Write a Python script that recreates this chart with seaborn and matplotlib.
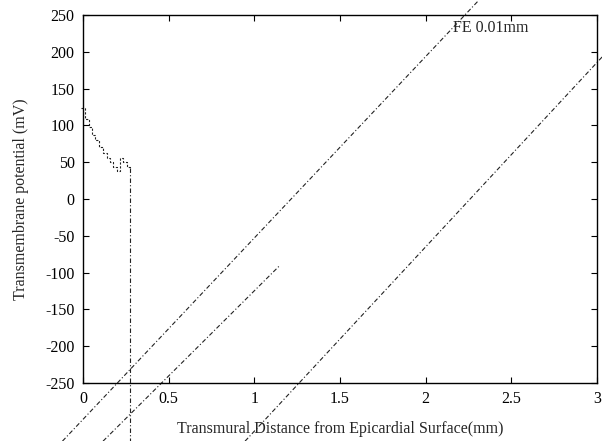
import matplotlib
matplotlib.use("Agg")
import matplotlib.pyplot as plt
import seaborn as sns
import pandas as pd

# Data
step_x = [-0.01, 0.0, 0.012, 0.035, 0.053, 0.07, 0.093, 0.117, 0.14, 0.158, 0.175, 0.198, 0.216, 0.234, 0.257, 0.274]
step_y = [124, 124, 109, 98, 87, 80, 71, 62, 56, 50, 43, 38, 56, 50, 43, 42]
vert_x = [0.274, 0.274]
vert_y = [42, -340]
lineA_x = [-0.12, 2.31]
lineA_y = [-329, 270]
lineB_x = [0.117, 1.15]
lineB_y = [-329, -90]
lineC_x = [0.946, 3.03]
lineC_y = [-329, 193]
xticks = [0, 0.5, 1, 1.5, 2, 2.5, 3]
xticklabels = ["0", "0.5", "1", "1.5", "2", "2.5", "3"]
yticks = [-250, -200, -150, -100, -50, 0, 50, 100, 150, 200, 250]
label_text = "FE 0.01mm"

sns.set_style("ticks")
plt.rcParams['font.family'] = ['Liberation Serif', 'DejaVu Serif']
plt.rcParams['axes.unicode_minus'] = False

fig = plt.figure(figsize=(6.02, 4.41), dpi=100)
ax = fig.add_axes([83/602, 1-383/441, (597-83)/602, (383-15)/441])

dashdot = (0, (4, 2, 1, 2))
common = dict(color="#222222", linewidth=0.8, estimator=None, sort=False, legend=False, clip_on=False)

sns.lineplot(x=step_x, y=step_y, ax=ax, drawstyle="steps-post", linestyle=(0, (2, 1.5)), **common)
sns.lineplot(x=vert_x, y=vert_y, ax=ax, linestyle=dashdot, **common)
sns.lineplot(x=lineA_x, y=lineA_y, ax=ax, linestyle=dashdot, **common)
sns.lineplot(x=lineB_x, y=lineB_y, ax=ax, linestyle=dashdot, **common)
sns.lineplot(x=lineC_x, y=lineC_y, ax=ax, linestyle=dashdot, **common)

ax.set_xlim(0, 3)
ax.set_ylim(-250, 250)
ax.set_xticks(xticks)
ax.set_xticklabels(xticklabels)
ax.set_yticks(yticks)
ax.tick_params(direction="in", length=4, width=0.8, top=True, right=True, labelsize=11.5, pad=6, colors="black")
for s in ax.spines.values():
    s.set_linewidth(1.0)
    s.set_color("black")

ax.set_xlabel("Transmural Distance from Epicardial Surface(mm)", fontsize=11.5, labelpad=10)
ax.set_ylabel("Transmembrane potential (mV)", fontsize=11.5, labelpad=12)

ax.text(2.16, 232, label_text, fontsize=11.5, ha="left", va="center")

fig.savefig("out.png", dpi=100)
